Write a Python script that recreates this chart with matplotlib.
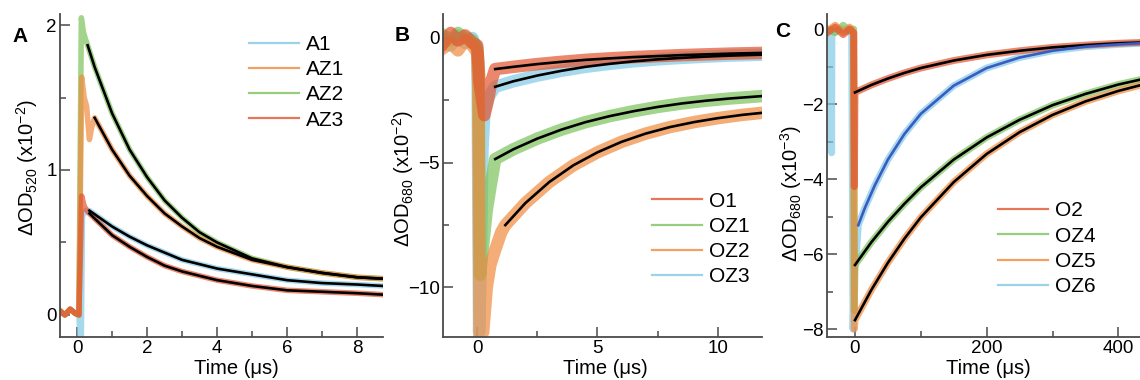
# -*- coding: utf-8 -*-
"""
Transient absorption decays, three panels (A, B, C) with exponential fits
"""
import matplotlib
matplotlib.use('Agg')
import matplotlib.pyplot as plt
from matplotlib.lines import Line2D
import numpy as np


#------- plot appearance
params = {'font.family': ['Liberation Sans', 'DejaVu Sans'],
          'mathtext.fontset': 'custom',
          'mathtext.rm': 'Liberation Sans',
          'mathtext.it': 'Liberation Sans:italic',
          'mathtext.bf': 'Liberation Sans:bold',
          'xtick.labelsize': 13.5,
          'ytick.labelsize': 13.5,
          'axes.labelsize': 14.5,
          }
plt.rcParams.update(params)

c_cyan = '#82c9e6'
c_orange = '#f08a3c'
c_green = '#7cc25c'
c_red = '#e2542e'
c_axis = '#4a4a4a'


# ------ panel A data (x10^-2, time in us)
a_pre_t = [-0.5, -0.35, -0.2, -0.05, 0.05]
a_pre_y = [0.03, 0.0, 0.04, 0.01, 0.0]

a1_early_t = [0.08, 0.12, 0.15, 0.25]
a1_early_y = [-0.15, -0.15, 0.68, 0.72]
az1_early_t = [0.13, 0.2, 0.27, 0.35, 0.42]
az1_early_y = [1.64, 1.5, 1.44, 1.21, 1.3]
az2_early_t = [0.12, 0.18, 0.24]
az2_early_y = [2.05, 1.95, 1.9]
az3_early_t = [0.13, 0.2, 0.28]
az3_early_y = [0.82, 0.75, 0.72]

a1_fit_t = [0.35, 1, 1.5, 2, 2.5, 3, 3.5, 4, 5, 6, 7, 8, 8.75]
a1_fit_y = [0.72, 0.61, 0.54, 0.48, 0.43, 0.38, 0.35, 0.32, 0.28, 0.24, 0.22, 0.21, 0.20]
az1_fit_t = [0.5, 1, 1.5, 2, 2.5, 3, 3.5, 4, 5, 6, 7, 8, 8.75]
az1_fit_y = [1.36, 1.14, 0.96, 0.82, 0.70, 0.61, 0.53, 0.47, 0.38, 0.33, 0.29, 0.26, 0.25]
az2_fit_t = [0.3, 0.5, 1, 1.5, 2, 2.5, 3, 3.5, 4, 5, 6, 7, 8, 8.75]
az2_fit_y = [1.86, 1.71, 1.39, 1.14, 0.95, 0.79, 0.67, 0.57, 0.50, 0.39, 0.33, 0.29, 0.26, 0.25]
az3_fit_t = [0.35, 1, 1.5, 2, 2.5, 3, 3.5, 4, 5, 6, 7, 8, 8.75]
az3_fit_y = [0.70, 0.55, 0.47, 0.40, 0.34, 0.30, 0.27, 0.24, 0.20, 0.17, 0.16, 0.15, 0.14]

# ------ panel B data (x10^-2, time in us)
b_pre_t = [-1.4, -1.1, -0.8, -0.5, -0.2, 0.0]
o1_pre_y = [-0.2, 0.2, -0.1, 0.1, -0.2, -0.3]
oz1_pre_y = [0.1, -0.1, 0.2, 0.0, -0.1, -0.4]
oz2_pre_y = [-0.4, -0.2, -0.5, -0.1, -0.3, -0.6]
oz3_pre_y = [0.0, -0.3, 0.1, -0.2, 0.0, -0.5]

o1_early_t = [0.1, 0.3, 0.45, 0.6]
o1_early_y = [-1.8, -3.1, -2.5, -1.7]
oz1_early_t = [0.05, 0.12, 0.25, 0.4, 0.55]
oz1_early_y = [-1.0, -9.5, -8.3, -6.9, -6.0]
oz2_early_t = [0.05, 0.1, 0.25, 0.4, 0.55, 0.75, 1.0]
oz2_early_y = [-2.0, -12.0, -11.8, -10.0, -9.1, -8.5, -7.8]
oz3_early_t = [0.02, 0.08, 0.15, 0.22, 0.3, 0.45]
oz3_early_y = [-2.0, -11.8, -9.0, -4.5, -3.0, -2.4]

b_fit_t = [0.75, 1.5, 2.5, 3.5, 4.5, 5.5, 6.5, 7.5, 8.5, 9.5, 10.5, 11.9]
o1_fit_y = [-1.25, -1.16, -1.05, -0.96, -0.88, -0.82, -0.77, -0.73, -0.69, -0.66, -0.63, -0.60]
oz3_fit_y = [-1.96, -1.74, -1.51, -1.32, -1.16, -1.04, -0.94, -0.86, -0.80, -0.75, -0.71, -0.67]
oz1_fit_y = [-4.86, -4.47, -4.04, -3.68, -3.38, -3.14, -2.94, -2.77, -2.63, -2.52, -2.43, -2.33]
oz2_fit_t = [1.17, 2, 3, 4, 5, 6, 7, 8, 9, 10, 11, 11.9]
oz2_fit_y = [-7.51, -6.63, -5.78, -5.11, -4.59, -4.17, -3.84, -3.58, -3.38, -3.22, -3.09, -3.0]

# ------ panel C data (x10^-3, time in us)
c_pre_t = [-42, -30, -18, -8, -2]
o2_pre_y = [-0.1, 0.05, -0.15, 0.0, -0.1]
oz4_pre_y = [0.0, -0.1, 0.1, -0.05, 0.0]
oz5_pre_y = [-0.05, 0.1, -0.1, 0.05, -0.1]
oz6_pre_t = [-42, -36, -35.5, -35, -20, -5, -3, -1, 2]
oz6_pre_y = [-0.1, 0.0, -3.3, -0.1, 0.0, -0.1, -8.0, -6.5, -6.0]

o2_early_t = [-1]
o2_early_y = [-4.2]
oz4_early_t = [-1]
oz4_early_y = [-7.5]
oz5_early_t = [-1]
oz5_early_y = [-8.0]

c_fit_t = [0, 25, 50, 75, 100, 150, 200, 250, 300, 350, 400, 433]
o2_fit_y = [-1.69, -1.49, -1.32, -1.17, -1.04, -0.84, -0.69, -0.58, -0.49, -0.43, -0.38, -0.36]
oz4_fit_y = [-6.29, -5.68, -5.14, -4.66, -4.22, -3.48, -2.89, -2.42, -2.03, -1.73, -1.48, -1.35]
oz5_fit_y = [-7.76, -6.95, -6.23, -5.59, -5.02, -4.08, -3.33, -2.75, -2.29, -1.93, -1.65, -1.50]
oz6_fit_t = [5, 15, 30, 50, 75, 100, 150, 200, 250, 300, 350, 400, 433]
oz6_fit_y = [-5.23, -4.77, -4.17, -3.48, -2.80, -2.26, -1.51, -1.04, -0.76, -0.58, -0.47, -0.41, -0.38]


# ------ layout helpers
W, H = 1140, 380
fig = plt.figure(figsize=(W / 100, H / 100), dpi=100)


def px_axes(left, right, top, bottom):
    return fig.add_axes([left / W, 1 - bottom / H, (right - left) / W, (bottom - top) / H])


def style_axes(ax):
    for s in ['top', 'right']:
        ax.spines[s].set_visible(False)
    for s in ['left', 'bottom']:
        ax.spines[s].set_color(c_axis)
        ax.spines[s].set_linewidth(1.3)
    ax.tick_params(which='major', direction='in', length=7, width=1.1, color=c_axis, pad=2.5)
    ax.tick_params(which='minor', direction='in', length=4.3, width=1.1, color=c_axis)
    ax.tick_params(axis='x', which='major', pad=2)


def trace(ax, t, y, color, lw):
    ax.plot(t, y, color=color, lw=lw, alpha=0.7, solid_joinstyle='round')


def legend(ax, names, colors, x, y):
    handles = [Line2D([], [], color=c, lw=1.6, alpha=0.8) for c in colors]
    ax.legend(handles, names, loc='upper left', bbox_to_anchor=(x, y), frameon=False,
              fontsize=15, handlelength=2.4, handletextpad=0.35, labelspacing=0.3,
              borderpad=0, borderaxespad=0)


axA = px_axes(60, 383, 14, 337)
axB = px_axes(443, 762, 14, 337)
axC = px_axes(827, 1140, 14, 337)

# ------ panel A
lwA = 4.0
trace(axA, a_pre_t + a1_early_t + a1_fit_t, a_pre_y + a1_early_y + a1_fit_y, c_cyan, lwA)
trace(axA, a_pre_t + az2_early_t + az2_fit_t, a_pre_y + az2_early_y + az2_fit_y, c_green, lwA)
trace(axA, a_pre_t + az1_early_t + az1_fit_t, a_pre_y + az1_early_y + az1_fit_y, c_orange, lwA)
trace(axA, a_pre_t + az3_early_t + az3_fit_t, a_pre_y + az3_early_y + az3_fit_y, c_red, lwA)
for ft, fy in [(a1_fit_t, a1_fit_y), (az1_fit_t, az1_fit_y),
               (az2_fit_t, az2_fit_y), (az3_fit_t, az3_fit_y)]:
    axA.plot(ft, fy, color='k', lw=1.9)
axA.set_xlim(-0.49, 8.74)
axA.set_ylim(-0.152, 2.076)
axA.set_xticks([0, 2, 4, 6, 8])
axA.set_xticks([1, 3, 5, 7], minor=True)
axA.set_yticks([0, 1, 2])
axA.set_yticks([0.5, 1.5], minor=True)
legend(axA, ['A1', 'AZ1', 'AZ2', 'AZ3'], [c_cyan, c_orange, c_green, c_red], 0.585, 0.935)

# ------ panel B
lwB = 9.0
trace(axB, b_pre_t + oz3_early_t + b_fit_t, oz3_pre_y + oz3_early_y + oz3_fit_y, c_cyan, lwB)
trace(axB, b_pre_t + oz1_early_t + b_fit_t, oz1_pre_y + oz1_early_y + oz1_fit_y, c_green, lwB)
trace(axB, b_pre_t + oz2_early_t + oz2_fit_t, oz2_pre_y + oz2_early_y + oz2_fit_y, c_orange, lwB)
trace(axB, b_pre_t + o1_early_t + b_fit_t, o1_pre_y + o1_early_y + o1_fit_y, c_red, lwB)
for ft, fy in [(b_fit_t, o1_fit_y), (b_fit_t, oz3_fit_y),
               (b_fit_t, oz1_fit_y), (oz2_fit_t, oz2_fit_y)]:
    axB.plot(ft, fy, color='k', lw=1.9)
axB.set_xlim(-1.42, 11.84)
axB.set_ylim(-12.0, 0.96)
axB.set_xticks([0, 5, 10])
axB.set_xticks([2.5, 7.5], minor=True)
axB.set_yticks([0, -5, -10])
axB.set_yticks([-2.5, -7.5], minor=True)
legend(axB, ['O1', 'OZ1', 'OZ2', 'OZ3'], [c_red, c_green, c_orange, c_cyan], 0.655, 0.45)

# ------ panel C
lwC = 5.0
trace(axC, oz6_pre_t + oz6_fit_t, oz6_pre_y + oz6_fit_y, c_cyan, lwC)
trace(axC, c_pre_t + oz4_early_t + c_fit_t, oz4_pre_y + oz4_early_y + oz4_fit_y, c_green, lwC)
trace(axC, c_pre_t + oz5_early_t + c_fit_t, oz5_pre_y + oz5_early_y + oz5_fit_y, c_orange, lwC)
trace(axC, c_pre_t + o2_early_t + c_fit_t, o2_pre_y + o2_early_y + o2_fit_y, c_red, lwC)
for fy in [o2_fit_y, oz4_fit_y, oz5_fit_y]:
    axC.plot(c_fit_t, fy, color='k', lw=1.9)
axC.plot(oz6_fit_t, oz6_fit_y, color='#3a5ac4', lw=1.9)
axC.set_xlim(-42.5, 432.8)
axC.set_ylim(-8.21, 0.4)
axC.set_xticks([0, 200, 400])
axC.set_xticks([100, 300], minor=True)
axC.set_yticks([0, -2, -4, -6, -8])
axC.set_yticks([-1, -3, -5, -7], minor=True)
legend(axC, ['O2', 'OZ4', 'OZ5', 'OZ6'], [c_red, c_green, c_orange, c_cyan], 0.545, 0.42)

# ------ labels
for ax in [axA, axB, axC]:
    style_axes(ax)
    ax.set_xlabel('Time (\u03bcs)')
axA.set_ylabel('\u0394OD$_{520}$ (x10$^{-2}$)')
axB.set_ylabel('\u0394OD$_{680}$ (x10$^{-2}$)')
axC.set_ylabel('\u0394OD$_{680}$ (x10$^{-3}$)')
axA.xaxis.set_label_coords(0.545, -0.068)
axB.xaxis.set_label_coords(0.51, -0.068)
axC.xaxis.set_label_coords(0.515, -0.068)
axA.yaxis.set_label_coords(-0.062, 0.523)
axB.yaxis.set_label_coords(-0.085, 0.489)
axC.yaxis.set_label_coords(-0.074, 0.443)

for txt, xp, yp in [('A', 12, 27), ('B', 395, 26), ('C', 775, 22)]:
    fig.text(xp / W, 1 - yp / H, txt, fontsize=15, fontweight='bold', ha='left', va='top')


# --------saving figure
plt.savefig('out.png', dpi=100)
